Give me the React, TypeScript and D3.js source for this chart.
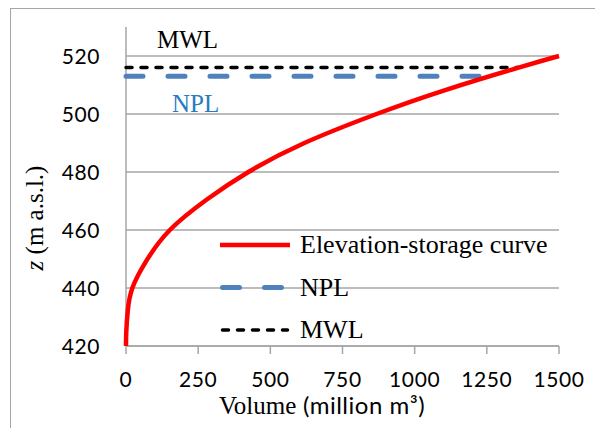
import React from "react";
import * as d3 from "d3";

// Elevation-storage curve: volume (million m3) vs z (m a.s.l.)
const volume = [0, 1, 6, 22, 72, 152, 280, 424, 618, 868, 1098, 1360, 1500];
const elevation = [420, 425, 432, 440, 449.6, 460, 470.5, 480, 490, 500, 508, 516, 520];

// Reference levels
const npl = { z: 513, vEnd: 1232 };
const mwl = { z: 516, vEnd: 1358 };

const xTicks = [0, 250, 500, 750, 1000, 1250, 1500];
const yTicks = [420, 440, 460, 480, 500, 520];
const legendItems = ["Elevation-storage curve", "NPL", "MWL"];

const W = 595, H = 428;
const serif = "'Liberation Serif', 'Times New Roman', serif";
const sans = "Lato, 'Open Sans', sans-serif";

export default function App() {
  const x = d3.scaleLinear().domain([0, 1500]).range([126, 559]);
  const y = d3.scaleLinear().domain([420, 530]).range([346, 27]);
  const pts: [number, number][] = volume.map((v, i) => [v, elevation[i]]);
  const line = d3
    .line<[number, number]>()
    .x((d) => x(d[0]))
    .y((d) => y(d[1]))
    .curve(d3.curveNatural);

  const grid = "#a6a6a6";
  const legendX0 = 220, legendX1 = 290, legendY0 = 245, legendDy = 42.5;
  const styles = [
    { stroke: "#ff0000", width: 4.5, dash: undefined as string | undefined, cap: "butt" },
    { stroke: "#4f81bd", width: 5, dash: "17 25", cap: "round" },
    { stroke: "#000000", width: 3.5, dash: "6 9", cap: "round" },
  ];

  return (
    <svg width={W} height={H} style={{ position: "absolute", left: 0, top: 0 }}>
      <rect x={0} y={0} width={W} height={H} fill="#fff" />
      <rect x={10.5} y={8.5} width={620} height={500} fill="none" stroke="#a6a6a6" strokeWidth={1} />
      {/* gridlines */}
      {yTicks.map((t) => (
        <line key={t} x1={x(0)} x2={x(1500)} y1={y(t)} y2={y(t)} stroke={grid} strokeWidth={1.5} />
      ))}
      {/* axes */}
      <line x1={x(0)} x2={x(0)} y1={y(530)} y2={y(420)} stroke={grid} strokeWidth={1.5} />
      <line x1={x(0)} x2={x(1500)} y1={y(420)} y2={y(420)} stroke={grid} strokeWidth={1.5} />
      {xTicks.map((t) => (
        <line key={t} x1={x(t)} x2={x(t)} y1={y(420)} y2={y(420) + 8} stroke={grid} strokeWidth={1.5} />
      ))}
      {/* tick labels */}
      {yTicks.map((t) => (
        <text key={t} x={100} y={y(t)} dy="0.36em" textAnchor="end" fontFamily={sans} fontSize={21} letterSpacing={0.6}>
          {t}
        </text>
      ))}
      {xTicks.map((t) => (
        <text key={t} x={x(t)} y={387} textAnchor="middle" fontFamily={sans} fontSize={21} letterSpacing={0.6}>
          {t}
        </text>
      ))}
      {/* axis titles */}
      <text x={219} y={414} fontSize={25} fontFamily={serif}>
        Volume
        <tspan fontFamily={sans} fontSize={24} letterSpacing={0.5}> (million m³)</tspan>
      </text>
      <text transform={`translate(43,218) rotate(-90)`} textAnchor="middle" fontFamily={serif} fontSize={25}>
        <tspan fontStyle="italic">z</tspan> (m a.s.l.)
      </text>
      {/* level lines */}
      <line x1={x(0)} x2={x(npl.vEnd)} y1={y(npl.z)} y2={y(npl.z)} stroke={styles[1].stroke} strokeWidth={styles[1].width} strokeDasharray={styles[1].dash} strokeLinecap="round" />
      <line x1={x(0)} x2={x(mwl.vEnd)} y1={y(mwl.z)} y2={y(mwl.z)} stroke={styles[2].stroke} strokeWidth={styles[2].width} strokeDasharray={styles[2].dash} strokeLinecap="round" />
      {/* curve */}
      <path d={line(pts) || ""} fill="none" stroke="#ff0000" strokeWidth={4.5} strokeLinejoin="round" />
      {/* level labels */}
      <text x={157} y={48} fontFamily={serif} fontSize={25} fill="#000">MWL</text>
      <text x={172} y={112} fontFamily={serif} fontSize={25} fill="#2a7ac0">NPL</text>
      {/* legend */}
      {legendItems.map((name, i) => (
        <g key={name}>
          <line
            x1={legendX0 + (styles[i].cap === "round" ? 2.5 : 0)}
            x2={legendX1 - (styles[i].cap === "round" ? 2.5 : 0)}
            y1={legendY0 + i * legendDy}
            y2={legendY0 + i * legendDy}
            stroke={styles[i].stroke}
            strokeWidth={styles[i].width}
            strokeDasharray={styles[i].dash}
            strokeLinecap={styles[i].cap as any}
          />
          <text x={300} y={legendY0 + i * legendDy + 8} fontFamily={serif} fontSize={26}>
            {name}
          </text>
        </g>
      ))}
    </svg>
  );
}
